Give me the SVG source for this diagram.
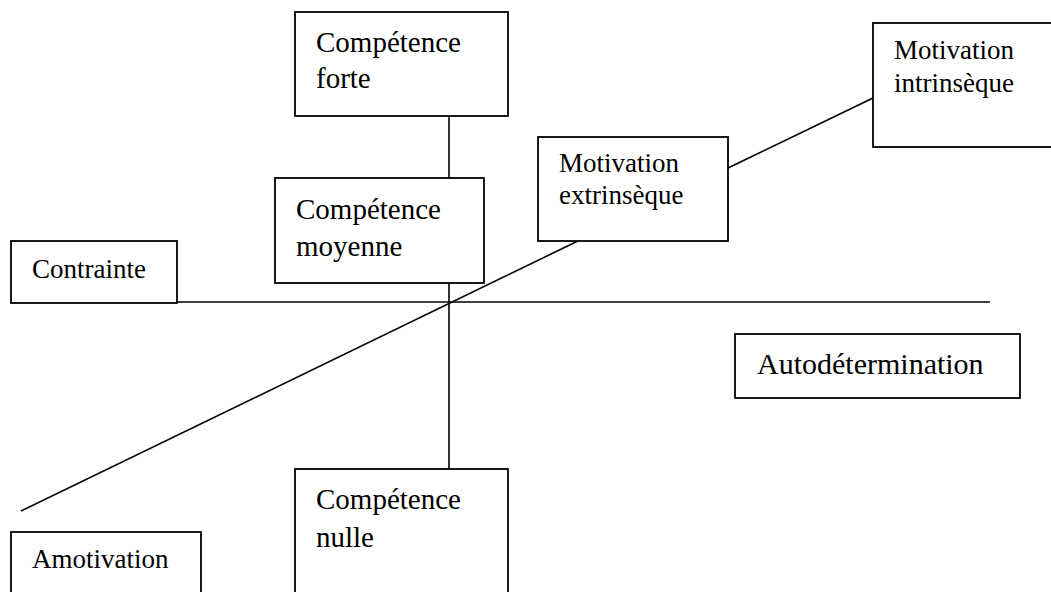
<svg xmlns="http://www.w3.org/2000/svg" width="1051" height="592" viewBox="0 0 1051 592">
<style>
.box{fill:#fff;stroke:#000;stroke-width:1.8}
.ln{stroke:#000;stroke-width:1.6;fill:none}
text{font-family:"Liberation Serif","Times New Roman",serif;fill:#000;font-size:27px}
.big{font-size:29px}
</style>
<rect width="1051" height="592" fill="#fff"/>
<g id="connectors">
<line class="ln" x1="83" y1="302" x2="990" y2="302"/>
<line class="ln" x1="449" y1="116" x2="449" y2="178"/>
<line class="ln" x1="449" y1="283" x2="449" y2="469"/>
<line class="ln" x1="21" y1="511" x2="582" y2="239"/>
<line class="ln" x1="728" y1="168" x2="873" y2="98"/>
</g>
<g id="competence-forte">
<rect class="box" x="295" y="12" width="213" height="104"/>
<text class="big" x="316" y="52">Compétence</text>
<text class="big" x="316" y="88">forte</text>
</g>
<g id="competence-moyenne">
<rect class="box" x="275" y="178" width="209" height="105"/>
<text class="big" x="296" y="219">Compétence</text>
<text class="big" x="296" y="256">moyenne</text>
</g>
<g id="contrainte">
<rect class="box" x="11" y="241" width="166" height="62"/>
<text x="32" y="278">Contrainte</text>
</g>
<g id="motivation-extrinseque">
<rect class="box" x="538" y="137" width="190" height="104"/>
<text x="559" y="172">Motivation</text>
<text x="559" y="204">extrinsèque</text>
</g>
<g id="motivation-intrinseque">
<rect class="box" x="873" y="23" width="182" height="124"/>
<text x="894" y="59">Motivation</text>
<text x="894" y="92">intrinsèque</text>
</g>
<g id="autodetermination">
<rect class="box" x="735" y="334" width="285" height="64"/>
<text x="757" y="374" style="font-size:30px">Autodétermination</text>
</g>
<g id="competence-nulle">
<rect class="box" x="295" y="469" width="213" height="130"/>
<text class="big" x="316" y="509">Compétence</text>
<text class="big" x="316" y="547">nulle</text>
</g>
<g id="amotivation">
<rect class="box" x="11" y="532" width="190" height="70"/>
<text x="32" y="568">Amotivation</text>
</g>
</svg>
